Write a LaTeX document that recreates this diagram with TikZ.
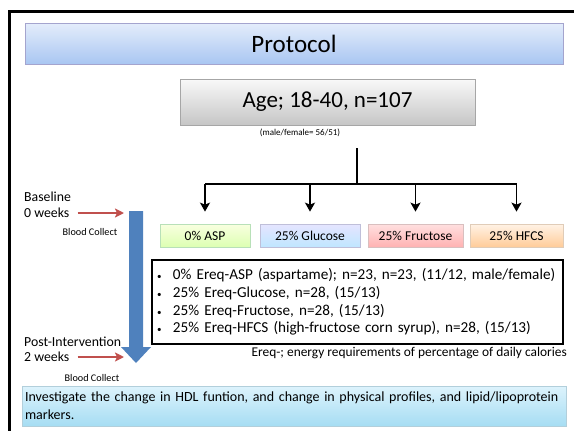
\documentclass[tikz,border=0pt]{standalone}
\usepackage{fontspec}
\setmainfont{Carlito}
\usetikzlibrary{arrows.meta}

\definecolor{redline}{HTML}{C0504D}
\definecolor{bluebar}{HTML}{4F81BD}
\definecolor{titletop}{HTML}{E4EDFB}
\definecolor{titlebot}{HTML}{A9C6F2}
\definecolor{aimtop}{HTML}{DDF3FC}
\definecolor{aimbot}{HTML}{A6DDF3}

\tikzstyle{box}=[rectangle, draw, inner sep=0pt, line width=0.7pt]
\tikzstyle{txt}=[inner sep=0pt, font=\fontsize{13.8}{16}\selectfont]
\tikzstyle{tiny}=[inner sep=0pt, font=\fontsize{10.2}{12}\selectfont]
\tikzstyle{drug}=[box, minimum height=23pt, font=\fontsize{13.5}{15}\selectfont]
\tikzstyle{arm}=[-{Stealth[length=9pt,width=10pt,inset=2pt]}, line width=1.8pt]
\tikzstyle{redarr}=[-{Stealth[length=9pt,width=9pt,inset=2pt]}, draw=redline, line width=2.2pt]

\begin{document}
\begin{tikzpicture}[x=1pt,y=-1pt]
  \useasboundingbox (0,0) rectangle (574,431);
  \draw[line width=3pt] (9.5,431) -- (9.5,11.5) -- (574,11.5);

  \node[box, draw=blue!30!gray!55, top color=titletop, bottom color=titlebot,
        minimum width=538pt, minimum height=41pt, font=\fontsize{25}{28}\selectfont]
        (title) at (294,43.5) {Protocol};
  \node[box, draw=gray!70, top color=gray!5, bottom color=gray!45,
        minimum width=295pt, minimum height=46pt, font=\fontsize{23}{27}\selectfont]
        (age) at (327.5,102) {Age; 18-40, n=107};
  \node[tiny, font=\fontsize{9}{10}\selectfont] (mf) at (300,133) {(male/female= 56/51)};

  \node[drug, draw=green!40!gray!40, top color=green!20!yellow!12, bottom color=green!45!yellow!30,
        minimum width=90pt] (asp) at (205,235.5) {0\% ASP};
  \node[drug, draw=blue!25!gray!40, top color=blue!10, bottom color=blue!40!cyan!25,
        minimum width=100pt] (glu) at (310,235.5) {25\% Glucose};
  \node[drug, draw=red!25!gray!40, top color=red!12, bottom color=red!30,
        minimum width=95pt] (fru) at (415.5,235.5) {25\% Fructose};
  \node[drug, draw=orange!40!gray!40, top color=orange!10, bottom color=orange!40,
        minimum width=93pt] (hfcs) at (516.5,235.5) {25\% HFCS};

  \coordinate (stem) at (357,148);
  \coordinate (split) at (357,184);
  \draw[line width=1.8pt] (stem) -- (split);
  \draw[line width=1.8pt] (asp |- split) -- (hfcs |- split);
  \draw[arm] (asp |- split) -- ([yshift=12pt]asp.north);
  \draw[arm] (glu |- split) -- ([yshift=12pt]glu.north);
  \draw[arm] (fru |- split) -- ([yshift=12pt]fru.north);
  \draw[arm] (hfcs |- split) -- ([yshift=12pt]hfcs.north);

  \node[box, line width=1.6pt, minimum width=411pt, minimum height=84pt,
        text width=401pt, align=left, font=\fontsize{15.2}{17.7}\selectfont]
        (list) at (357.5,302) {%
    \makebox[16pt][l]{\small\textbullet}0\% Ereq-ASP (aspartame); n=23, n=23, (11/12, male/female)\\
    \makebox[16pt][l]{\small\textbullet}25\% Ereq-Glucose, n=28, (15/13)\\
    \makebox[16pt][l]{\small\textbullet}25\% Ereq-Fructose, n=28, (15/13)\\
    \makebox[16pt][l]{\small\textbullet}25\% Ereq-HFCS (high-fructose corn syrup), n=28, (15/13)};
  \node[txt, anchor=east, font=\fontsize{13.4}{15}\selectfont] (ereq) at (567,353)
        {Ereq-; energy requirements of percentage of daily calories};

  \fill[bluebar] (129,211) -- (143,211) -- (143,347) -- (151,347) -- (136,363)
        -- (121,347) -- (129,347) -- cycle;

  \node[txt, anchor=west] (base) at (24,197) {Baseline};
  \node[txt, anchor=west] (wk0) at (24,213) {0 weeks};
  \node[tiny] (bc0) at (90,232) {Blood Collect};
  \coordinate (in0) at (124,213);
  \draw[redarr] ([xshift=8pt]wk0.east) -- (in0);

  \node[txt, anchor=west] (post) at (24,342) {Post-Intervention};
  \node[txt, anchor=west] (wk2) at (24,357) {2 weeks};
  \node[tiny] (bc2) at (92,378) {Blood Collect};
  \coordinate (in2) at (124,357);
  \draw[redarr] ([xshift=8pt]wk2.east) -- (in2);

  \node[box, draw=cyan!40!gray!50, top color=aimtop, bottom color=aimbot,
        minimum width=544pt, minimum height=40pt, text width=538pt, align=left,
        font=\fontsize{14}{18}\selectfont] (aim) at (294,406)
        {Investigate the change in HDL funtion, and change in physical profiles, and lipid/lipoprotein\\markers.};
\end{tikzpicture}
\end{document}
